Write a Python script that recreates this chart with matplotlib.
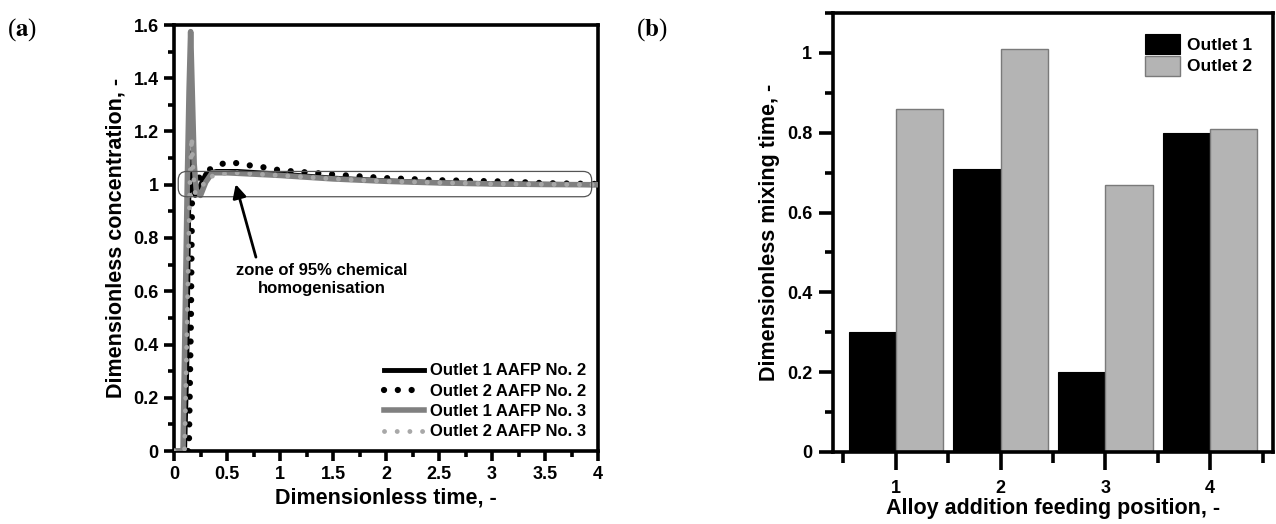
import numpy as np
import matplotlib
matplotlib.use("Agg")
import matplotlib.pyplot as plt
from matplotlib.patches import FancyBboxPatch
from matplotlib.ticker import MultipleLocator, FuncFormatter

plt.rcParams['font.family'] = ['Liberation Sans', 'DejaVu Sans']
plt.rcParams['font.weight'] = 'bold'
plt.rcParams['mathtext.fontset'] = 'stix'

# (a) concentration curves at the two outlets for two feeding positions
t_o1_p2 = [0, 0.10, 0.12, 0.14, 0.155, 0.17, 0.20, 0.24, 0.30, 0.40, 0.60, 1.0, 1.5, 2.0, 2.5, 3.0, 3.5, 4.0]
c_o1_p2 = [0, 0, 0.30, 0.95, 1.12, 1.00, 0.96, 0.99, 1.04, 1.05, 1.05, 1.04, 1.025, 1.015, 1.008, 1.004, 1.002, 1.0]

t_o2_p2 = [0, 0.14, 0.16, 0.17, 0.19, 0.22, 0.30, 0.40, 0.50, 0.62, 0.75, 0.88, 1.0, 1.3, 1.55, 2.0, 2.5, 3.15, 3.5, 4.0]
c_o2_p2 = [0, 0, 0.50, 0.95, 1.00, 1.02, 1.05, 1.07, 1.085, 1.08, 1.07, 1.064, 1.054, 1.045, 1.037, 1.025, 1.017, 1.012, 1.006, 1.003]

t_o1_p3 = [0, 0.085, 0.105, 0.125, 0.142, 0.157, 0.172, 0.19, 0.21, 0.25, 0.30, 0.36, 0.50, 1.0, 1.5, 2.0, 2.5, 3.0, 3.5, 4.0]
c_o1_p3 = [0, 0, 0.50, 1.00, 1.35, 1.575, 1.35, 1.08, 0.98, 0.96, 1.01, 1.045, 1.045, 1.035, 1.022, 1.013, 1.007, 1.003, 1.001, 1.0]

t_o2_p3 = [0, 0.10, 0.13, 0.15, 0.167, 0.18, 0.20, 0.25, 0.30, 0.40, 0.60, 1.0, 1.5, 2.0, 3.0, 4.0]
c_o2_p3 = [0, 0, 0.60, 1.00, 1.18, 1.05, 0.97, 0.98, 1.02, 1.04, 1.045, 1.035, 1.022, 1.013, 1.003, 1.0]

# (b) mixing time per feeding position
positions = [1, 2, 3, 4]
mix_outlet1 = [0.30, 0.71, 0.20, 0.80]
mix_outlet2 = [0.86, 1.01, 0.67, 0.81]

fig = plt.figure(figsize=(12.76, 5.24), dpi=100)
ax1 = fig.add_axes([174 / 1276, 73 / 524, 424 / 1276, 426 / 524])
ax2 = fig.add_axes([833 / 1276, 72 / 524, 440 / 1276, 439 / 524])

fmt = FuncFormatter(lambda v, p: f'{v:g}')
for ax in (ax1, ax2):
    for s in ax.spines.values():
        s.set_linewidth(2.6)

# ---- panel (a)
ax1.plot(t_o1_p2, c_o1_p2, color='black', lw=3.5, label='Outlet 1 AAFP No. 2', zorder=3)
ax1.plot(t_o2_p2, c_o2_p2, color='black', lw=4.5, linestyle=(0, (0.01, 2.2)),
         dash_capstyle='round', label='Outlet 2 AAFP No. 2', zorder=3)
ax1.plot(t_o1_p3, c_o1_p3, color='#808080', lw=4, label='Outlet 1 AAFP No. 3', zorder=4)
ax1.plot(t_o2_p3, c_o2_p3, color='#a8a8a8', lw=3.5, linestyle=(0, (0.01, 2.6)),
         dash_capstyle='round', label='Outlet 2 AAFP No. 3', zorder=4)

ax1.set_xlim(0, 4)
ax1.set_ylim(0, 1.6)
ax1.xaxis.set_major_locator(MultipleLocator(0.5))
ax1.xaxis.set_minor_locator(MultipleLocator(0.25))
ax1.yaxis.set_major_locator(MultipleLocator(0.2))
ax1.yaxis.set_minor_locator(MultipleLocator(0.1))
ax1.xaxis.set_major_formatter(fmt)
ax1.yaxis.set_major_formatter(fmt)
ax1.tick_params(which='major', direction='out', length=7, width=2.6, labelsize=13, pad=4)
ax1.tick_params(which='minor', direction='out', length=4.5, width=2.6)
ax1.set_xlabel('Dimensionless time, -', fontsize=15.5, fontweight='bold', labelpad=3)
ax1.set_ylabel('Dimensionless concentration, -', fontsize=15.5, fontweight='bold', labelpad=5)

zone = FancyBboxPatch((0.04, 0.955), 3.90, 0.095,
                      boxstyle='round,pad=0,rounding_size=0.08',
                      mutation_aspect=0.4, fc='none', ec='#555555', lw=0.9, zorder=5)
ax1.add_patch(zone)
ax1.annotate('', xy=(0.575, 1.012), xytext=(0.78, 0.718),
             arrowprops=dict(arrowstyle='-|>', color='black', lw=2, mutation_scale=20),
             zorder=6)
ax1.text(1.39, 0.645, 'zone of 95% chemical\nhomogenisation', ha='center', va='center',
         fontsize=12, fontweight='bold', linespacing=1.25)

ax1.legend(loc='lower right', frameon=False, handlelength=2.4,
           labelspacing=0.32, handletextpad=0.35, borderaxespad=0.3,
           prop={'weight': 'bold', 'size': 12})

# ---- panel (b)
w = 0.45
x = np.array(positions)
ax2.bar(x - w / 2, mix_outlet1, width=w, color='black', edgecolor='black', lw=0.8, label='Outlet 1')
ax2.bar(x + w / 2, mix_outlet2, width=w, color='#b4b4b4', edgecolor='#7a7a7a', lw=1, label='Outlet 2')

ax2.set_xlim(0.4, 4.6)
ax2.set_ylim(0, 1.1)
ax2.set_xticks(positions)
ax2.xaxis.set_minor_locator(MultipleLocator(0.5))
ax2.yaxis.set_major_locator(MultipleLocator(0.2))
ax2.yaxis.set_minor_locator(MultipleLocator(0.1))
ax2.yaxis.set_major_formatter(fmt)
ax2.tick_params(axis='x', which='major', direction='out', length=13, width=2.6, labelsize=13, pad=7)
ax2.tick_params(axis='x', which='minor', direction='out', length=8, width=2.6)
ax2.tick_params(axis='y', which='major', direction='out', length=10, width=2.6, labelsize=13, pad=5)
ax2.tick_params(axis='y', which='minor', direction='out', length=6, width=2.6)
ax2.set_xlabel('Alloy addition feeding position, -', fontsize=15.5, fontweight='bold', labelpad=1)
ax2.set_ylabel('Dimensionless mixing time, -', fontsize=15.5, fontweight='bold', labelpad=5)
ax2.legend(loc='upper right', frameon=False, handlelength=2.0, handleheight=1.4,
           labelspacing=0.1, handletextpad=0.4, borderaxespad=0.8,
           prop={'weight': 'bold', 'size': 12.5})

for label, xpos in (('a', 7 / 1276), ('b', 636 / 1276)):
    fig.text(xpos, 0.943, r'($\mathbf{' + label + r'}$)', fontsize=18,
             family='Liberation Serif', fontweight='normal', va='center')

fig.savefig('out.png', dpi=100)
